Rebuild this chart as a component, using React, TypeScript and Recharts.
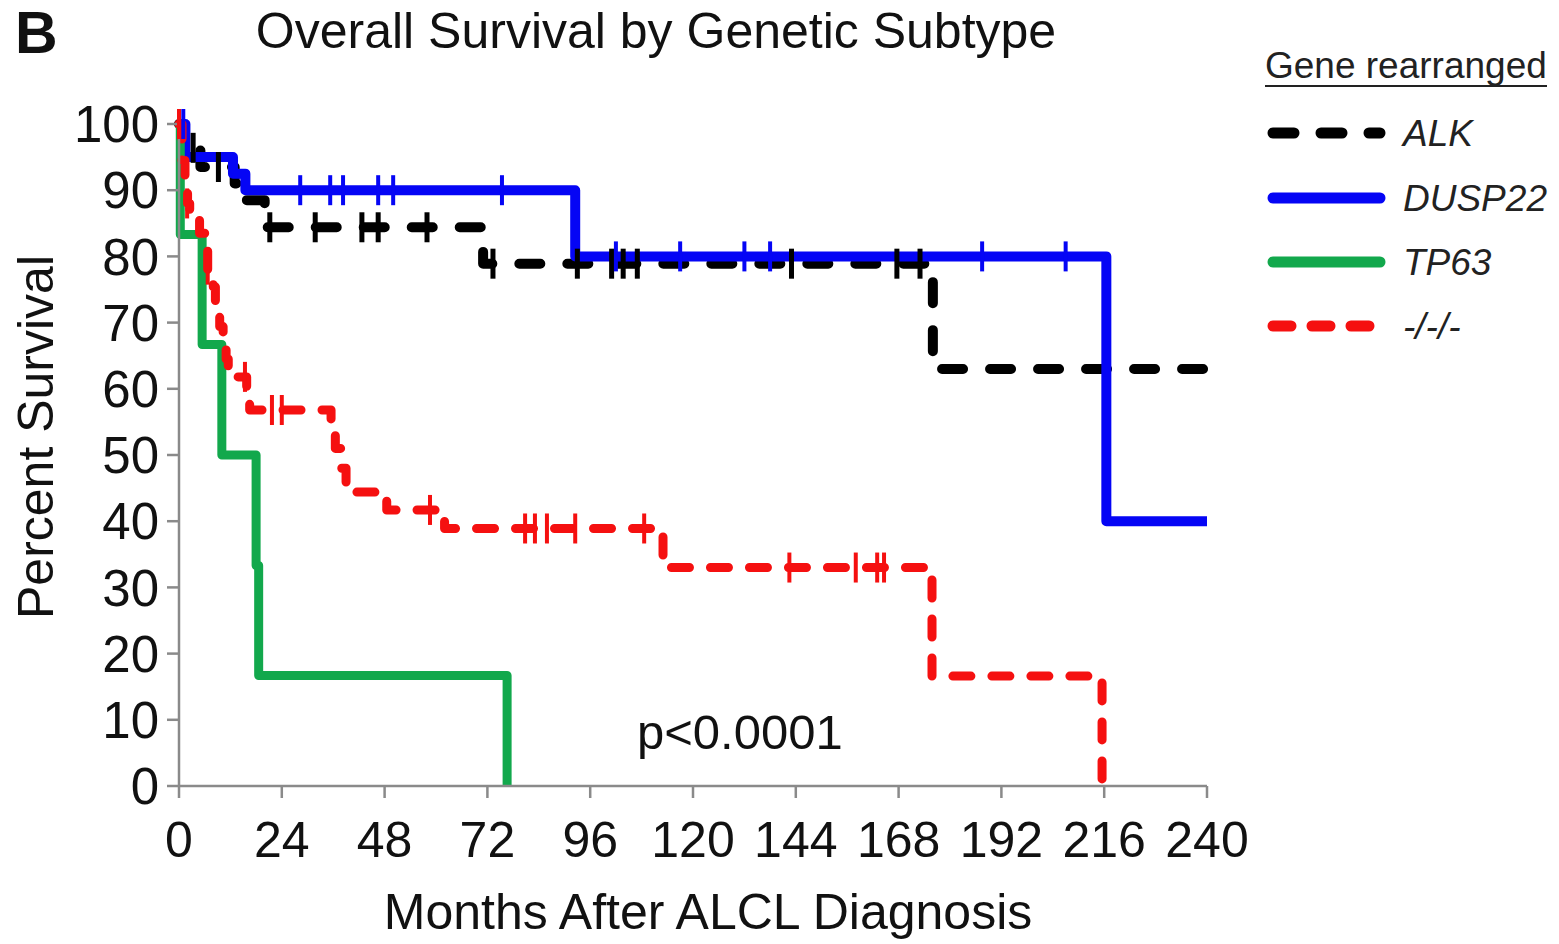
import React from 'react';
import { ComposedChart, Line, Scatter, XAxis, YAxis, Legend } from 'recharts';

const FONT = '"Liberation Sans", Arial, Helvetica, sans-serif';

const xTicks = [0, 24, 48, 72, 96, 120, 144, 168, 192, 216, 240];
const yTicks = [0, 10, 20, 30, 40, 50, 60, 70, 80, 90, 100];

// [month, percent survival] step points (value holds from that month on)
const alkSteps = [
  [0, 100], [1, 96.4], [5, 93.5], [13, 91], [15, 88.5], [20, 84.4], [71, 78.9], [176, 63], [240, 63],
];
const alkCensored = [
  [3.3, 96.4], [9.2, 93.5], [21.2, 84.4], [31.8, 84.4], [42.7, 84.4], [46.5, 84.4], [57.9, 84.4],
  [73.3, 78.9], [93, 78.9], [101, 78.9], [103.7, 78.9], [107, 78.9], [143, 78.9], [167.6, 78.9], [173, 78.9],
];

const duspSteps = [
  [0, 100], [1.5, 95], [12.6, 92.5], [15.5, 90], [92.5, 80], [216.5, 40], [240, 40],
];
const duspCensored = [
  [1, 100], [28.3, 90], [35.3, 90], [38.3, 90], [46.5, 90], [50, 90], [75.4, 90],
  [102, 80], [117, 80], [132, 80], [138, 80], [187.5, 80], [207, 80],
];

const tp63Steps = [
  [0, 100], [0.3, 83.3], [5.4, 66.7], [10, 50], [18, 33.3], [18.6, 16.7], [76.6, 0],
];

const tripleNegSteps = [
  [0, 100], [0.7, 94.5], [1.4, 91.5], [2, 88], [2.5, 85.5], [4.8, 83.5], [6, 81], [6.7, 78],
  [8, 75.4], [8.5, 72.2], [9.5, 69.4], [10.3, 67], [11, 64.5], [11.5, 61.8], [15.8, 59], [16.5, 56.8],
  [35.5, 54], [36.5, 51], [38, 48], [39, 44.4], [48.5, 41.7], [62, 38.9], [113, 33], [175.8, 16.6], [215.5, 0],
];
const tripleNegCensored = [
  [0, 100], [1.9, 88], [6.7, 78], [15.4, 61.8], [21.7, 56.8], [24, 56.8], [58.6, 41.7],
  [80.8, 38.9], [83.1, 38.9], [85.9, 38.9], [92.5, 38.9], [108.6, 38.9],
  [142.5, 33], [158, 33], [163, 33], [164.6, 33],
];

const seriesNames = ['ALK', 'DUSP22', 'TP63', '-/-/-'];
const seriesColors = ['#000000', '#0505f5', '#12a84c', '#f51010'];
const seriesDash = ['21 27', undefined, undefined, '18 21'];

const toPts = (arr: number[][]) => arr.map(([t, s]) => ({ t, s }));

const censorShape = (color: string, w: number) => (props: any) => {
  const { cx, cy } = props;
  if (cx == null || cy == null) return <g />;
  return <line x1={cx} x2={cx} y1={cy - 15} y2={cy + 15} stroke={color} strokeWidth={w} />;
};

const LegendBox = () => {
  const rows = [97, 162, 226, 290];
  return (
    <svg width={297} height={320} style={{ display: 'block' }}>
      <text x={3} y={42} fontFamily={FONT} fontSize={37} fill="#222">Gene rearranged</text>
      <line x1={3} x2={285} y1={50} y2={50} stroke="#222" strokeWidth={2} />
      {seriesNames.map((n, i) => (
        <g key={n}>
          <line
            x1={11}
            x2={118}
            y1={rows[i]}
            y2={rows[i]}
            stroke={seriesColors[i]}
            strokeWidth={11}
            strokeLinecap="round"
            strokeDasharray={seriesDash[i]}
          />
          <text x={141} y={rows[i] + 13} fontFamily={FONT} fontSize={37} fontStyle="italic" fill="#222">{n}</text>
        </g>
      ))}
    </svg>
  );
};

const axisStyle = { stroke: '#8a8a8a', strokeWidth: 2.5 };

export default function App() {
  return (
    <div style={{ position: 'absolute', left: 0, top: 0, width: 1559, height: 944, background: '#fff' }}>
      <ComposedChart
        width={1559}
        height={944}
        margin={{ top: 124, right: 352, bottom: 98, left: 79 }}
      >
        <XAxis
          type="number"
          dataKey="t"
          domain={[0, 240]}
          ticks={xTicks}
          interval={0}
          height={60}
          tickSize={12}
          tickMargin={23}
          axisLine={axisStyle}
          tickLine={axisStyle}
          tick={{ fill: '#111', fontSize: 50, fontFamily: FONT }}
        />
        <YAxis
          type="number"
          dataKey="s"
          domain={[0, 100]}
          ticks={yTicks}
          interval={0}
          width={100}
          tickSize={12}
          tickMargin={8}
          axisLine={axisStyle}
          tickLine={axisStyle}
          tick={{ fill: '#111', fontSize: 51, fontFamily: FONT }}
        />
        <Legend
          layout="horizontal"
          align="center"
          verticalAlign="middle"
          content={() => <LegendBox />}
          wrapperStyle={{ position: 'absolute', left: 1262, top: 36, width: 297, height: 320 }}
        />
        <Line data={toPts(alkSteps)} dataKey="s" name="ALK" type="stepAfter" stroke={seriesColors[0]} strokeWidth={10}
          strokeDasharray={seriesDash[0]} strokeLinecap="round" strokeLinejoin="round" dot={false} activeDot={false} isAnimationActive={false} />
        <Line data={toPts(duspSteps)} dataKey="s" name="DUSP22" type="stepAfter" stroke={seriesColors[1]} strokeWidth={10}
          strokeLinejoin="round" dot={false} activeDot={false} isAnimationActive={false} />
        <Line data={toPts(tp63Steps)} dataKey="s" name="TP63" type="stepAfter" stroke={seriesColors[2]} strokeWidth={9}
          strokeLinejoin="round" dot={false} activeDot={false} isAnimationActive={false} />
        <Line data={toPts(tripleNegSteps)} dataKey="s" name="-/-/-" type="stepAfter" stroke={seriesColors[3]} strokeWidth={9}
          strokeDasharray={seriesDash[3]} strokeLinecap="round" strokeLinejoin="round" dot={false} activeDot={false} isAnimationActive={false} />
        <Scatter data={toPts(alkCensored)} dataKey="s" shape={censorShape(seriesColors[0], 5)} isAnimationActive={false} />
        <Scatter data={toPts(duspCensored)} dataKey="s" shape={censorShape(seriesColors[1], 4)} isAnimationActive={false} />
        <Scatter data={toPts(tripleNegCensored)} dataKey="s" shape={censorShape(seriesColors[3], 4)} isAnimationActive={false} />
      </ComposedChart>
      <svg width={1559} height={944} style={{ position: 'absolute', left: 0, top: 0, pointerEvents: 'none' }}>
        <text x={15} y={53} fontFamily={FONT} fontSize={59} fontWeight="bold" fill="#111">B</text>
        <text x={656} y={48} textAnchor="middle" fontFamily={FONT} fontSize={50} fill="#111">Overall Survival by Genetic Subtype</text>
        <text transform="translate(53,437) rotate(-90)" textAnchor="middle" fontFamily={FONT} fontSize={50} fill="#111">Percent Survival</text>
        <text x={708} y={929} textAnchor="middle" fontFamily={FONT} fontSize={50} fill="#111">Months After ALCL Diagnosis</text>
        <text x={637} y={749} fontFamily={FONT} fontSize={49} fill="#111">p&lt;0.0001</text>
      </svg>
    </div>
  );
}
